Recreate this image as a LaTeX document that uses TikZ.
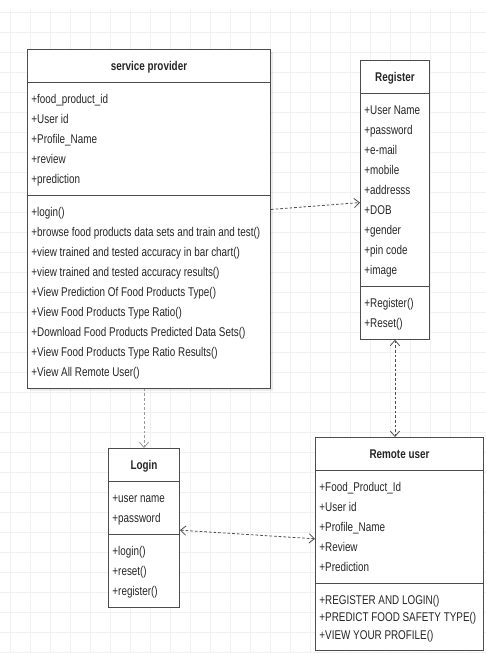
\documentclass[tikz,border=0pt]{standalone}
\usepackage{fontspec}
\setmainfont{Liberation Sans}[FakeStretch=0.78]
\usetikzlibrary{shapes.multipart,arrows.meta,shadows,positioning}

\newcommand{\rw}{\rule[-4pt]{0pt}{15pt}}

\tikzset{
  umlclass/.style={rectangle split, rectangle split parts=3, draw=black!70, line width=0.7pt,
    fill=white, rectangle split part align={center,left,left}, align=left,
    inner xsep=3pt, inner ysep=4.5pt, font=\fontsize{9.5}{15}\selectfont, text=black!85,
    anchor=north west},
  dep/.style={dash pattern=on 2pt off 1.5pt, draw=black!70, line width=0.6pt},
  gridline/.style={draw=black!6, line width=0.4pt},
}

\begin{document}
\begin{tikzpicture}[x=0.75pt, y=-0.75pt, >={Straight Barb[length=4pt,width=7pt]}]
    \useasboundingbox (0,0) rectangle (486,653);

    % background grid
    \foreach \gx in {10,30,...,486} \draw [gridline] (\gx,10) -- (\gx,653);
    \foreach \gy in {12,32,...,653} \draw [gridline] (0,\gy) -- (486,\gy);

    \node (sp) [umlclass, minimum width=182.25pt,
      drop shadow={opacity=0.15, shadow xshift=2pt, shadow yshift=-2pt}] at (27,49)
      {\textbf{service provider}\rw
       \nodepart{two}
       +food\_product\_id\rw\\ +User id\rw\\ +Profile\_Name\rw\\ +review\rw\\ +prediction\rw
       \nodepart{three}
       +login()\rw\\
       +browse food products data sets and train and test()\rw\\
       +view trained and tested accuracy in bar chart()\rw\\
       +view trained and tested accuracy results()\rw\\
       +View Prediction Of Food Products Type()\rw\\
       +View Food Products Type Ratio()\rw\\
       +Download Food Products Predicted Data Sets()\rw\\
       +View Food Products Type Ratio Results()\rw\\
       +View All Remote User()\rw};

    \node (reg) [umlclass, minimum width=51.75pt] at (360,60)
      {\textbf{Register}\rw
       \nodepart{two}
       +User Name\rw\\ +password\rw\\ +e-mail\rw\\ +mobile\rw\\ +addresss\rw\\
       +DOB\rw\\ +gender\rw\\ +pin code\rw\\ +image\rw
       \nodepart{three}
       +Register()\rw\\ +Reset()\rw};

    \node (login) [umlclass, minimum width=53.25pt] at (108,448)
      {\textbf{Login}\rw
       \nodepart{two}
       +user name\rw\\ +password\rw
       \nodepart{three}
       +login()\rw\\ +reset()\rw\\ +register()\rw};

    \node (ru) [umlclass, minimum width=126pt] at (315,437)
      {\textbf{Remote user}\rw
       \nodepart{two}
       +Food\_Product\_Id\rw\\ +User id\rw\\ +Profile\_Name\rw\\ +Review\rw\\ +Prediction\rw
       \nodepart{three}
       +REGISTER AND LOGIN()\rw\\[-2pt] +PREDICT FOOD SAFETY TYPE()\rw\\[-2pt] +VIEW YOUR PROFILE()\rw};

    \draw [->][dep] (sp) to (reg);
    \draw [->][dep, draw=black!40] (sp.south -| login.north) to (login.north);
    \draw [<->][dep] (login) to (ru);
    %\draw [<->][dep] (reg.south) to (ru.north);
    \draw [<->][dep] (reg.south) to (reg.south |- ru.north);

\end{tikzpicture}
\end{document}
